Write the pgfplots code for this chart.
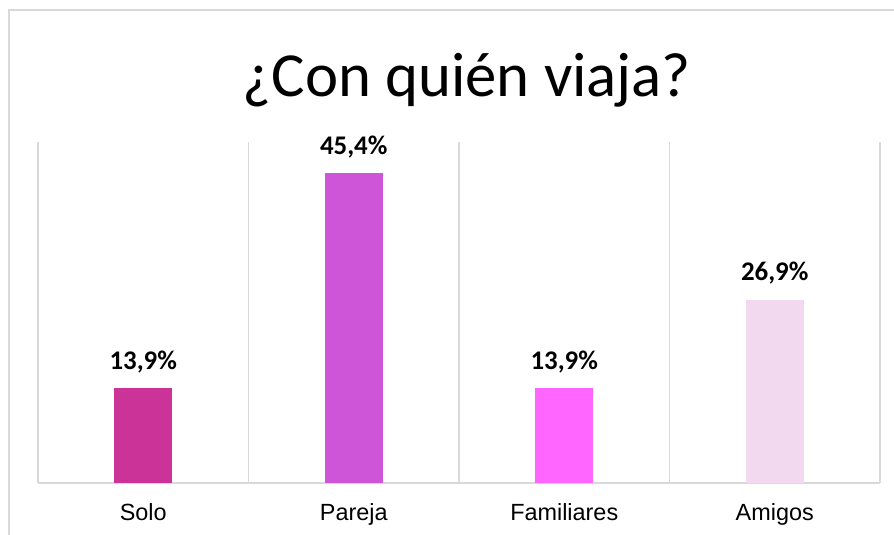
\documentclass[border=0pt]{standalone}
\usepackage{pgfplots}
\pgfplotsset{compat=1.18}
\usepackage{fontspec}
\setmainfont{Carlito}
\newfontfamily\arial{Liberation Sans}
\definecolor{cSolo}{HTML}{CC3399}
\definecolor{cPareja}{HTML}{CF55D8}
\definecolor{cFam}{HTML}{FF66FF}
\definecolor{cAmi}{HTML}{F3D9F0}
\definecolor{gridg}{HTML}{D9D9D9}
\begin{document}
\begin{tikzpicture}
\useasboundingbox (-38bp,-52bp) rectangle (856bp,483bp);
\begin{scope}
\clip (-38bp,-52bp) rectangle (856bp,483bp);
\draw[gridg, line width=1.5bp] (-29bp,-80bp) -- (-29bp,473bp) -- (900bp,473bp);
\end{scope}
\begin{axis}[
  at={(105.25bp,0)}, anchor=origin,
  scale only axis, width=842bp, height=341bp,
  xmin=-0.5, xmax=3.5, ymin=0, ymax=50,
  ybar, bar width=58bp, bar shift=0pt,
  axis x line=bottom, axis y line=none,
  axis line style={-, draw=gridg, line width=1.2bp},
  xtick={0,1,2,3},
  xticklabels={Solo,Pareja,Familiares,Amigos},
  major tick length=0pt,
  minor xtick={-0.5,0.5,1.5,2.5,3.5},
  minor tick length=0pt,
  xminorgrids=true,
  minor grid style={draw=gridg, line width=1.2bp},
  xticklabel style={font=\arial\fontsize{23.5}{26}\selectfont, anchor=base, yshift=-37bp, inner sep=0pt},
  nodes near coords={\pgfmathprintnumber[fixed, fixed zerofill, precision=1, use comma, assume math mode=true]{\pgfplotspointmeta}\%},
  nodes near coords style={font=\bfseries\fontsize{27}{30}\selectfont, anchor=base, inner sep=0pt, yshift=19bp},
  every axis plot/.append style={draw=none},
  clip=false,
]
\addplot[fill=cSolo] coordinates {(0,13.9)};
\addplot[fill=cPareja] coordinates {(1,45.4)};
\addplot[fill=cFam] coordinates {(2,13.9)};
\addplot[fill=cAmi] coordinates {(3,26.9)};
\end{axis}
\node[anchor=base, inner sep=0pt, font=\fontsize{63}{68}\selectfont] at (429bp,386bp) {¿Con quién viaja?};
\end{tikzpicture}
\end{document}
